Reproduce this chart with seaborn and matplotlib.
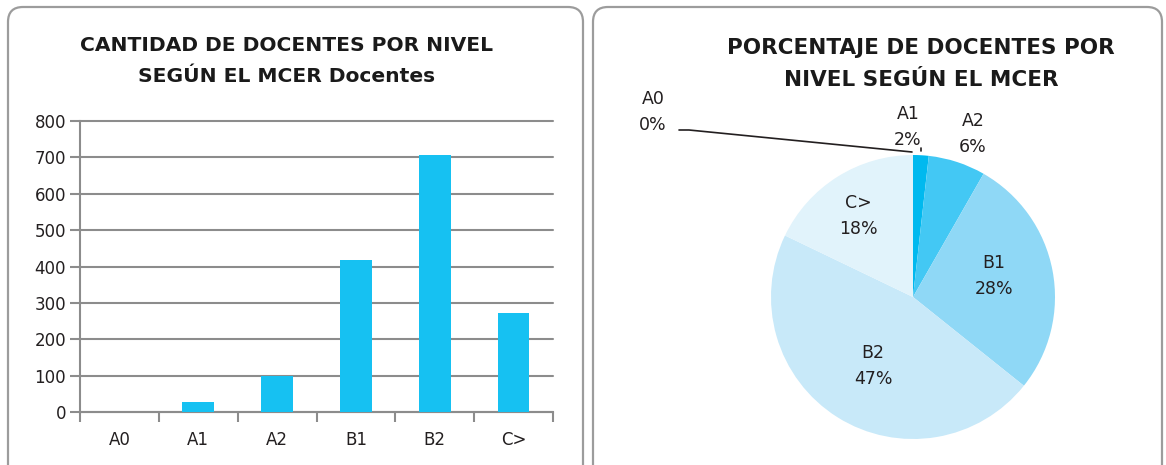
import matplotlib
matplotlib.use("Agg")
import matplotlib.pyplot as plt
import seaborn as sns
import pandas as pd
from matplotlib.patches import FancyBboxPatch

# ---- data ----
categories = ["A0", "A1", "A2", "B1", "B2", "C>"]
docentes = [0, 27, 99, 418, 706, 272]
pct_shown = [0, 2, 6, 28, 47, 18]
y_ticks = [0, 100, 200, 300, 400, 500, 600, 700, 800]

bar_title = "CANTIDAD DE DOCENTES POR NIVEL\nSEGÚN EL MCER Docentes"
pie_title = "PORCENTAJE DE DOCENTES POR\nNIVEL SEGÚN EL MCER"

# ---- style ----
sns.set_theme(style="white")
plt.rcParams["font.family"] = ["DejaVu Sans"]
TXT = "#231f20"
GRID = "#8c8c8c"
BAR = "#16C1F2"
PIE_COLORS = ["#00B9EF", "#00B9EF", "#43C8F4", "#8FD8F6", "#C8E9F9", "#E1F3FB"]

W, H = 1166, 465
fig = plt.figure(figsize=(W / 100, H / 100), dpi=100)

# background panel frames (pixel coordinates)
bg = fig.add_axes([0, 0, 1, 1], zorder=-10)
bg.set_xlim(0, W)
bg.set_ylim(H, 0)
bg.axis("off")
for x0, x1 in [(8, 583), (593, 1162)]:
    bg.add_patch(FancyBboxPatch((x0, 7), x1 - x0, 475, boxstyle="round,pad=0,rounding_size=15",
                                fc="white", ec="#9c9c9c", lw=1.6))

def fx(px):
    return px / W

def fy(py):
    return (H - py) / H

# ---- bar chart ----
axL, axR, axT, axB = 80, 553, 121, 412
ax = fig.add_axes([fx(axL), fy(axB), fx(axR) - fx(axL), fy(axT) - fy(axB)])
df = pd.DataFrame({"nivel": categories, "docentes": docentes})
sns.barplot(data=df, x="nivel", y="docentes", color=BAR, width=0.4, saturation=1, ax=ax,
            zorder=3, linewidth=0, edgecolor="none")
ax.set_ylim(0, 800)
ax.set_xlim(-0.5, len(categories) - 0.5)
ax.set_yticks(y_ticks)
ax.yaxis.grid(True, color=GRID, lw=1.5, zorder=0)
for gl in ax.get_ygridlines():
    gl.set_clip_on(False)
ax.set_axisbelow(True)
ax.set_xlabel("")
ax.set_ylabel("")
for s in ["top", "right"]:
    ax.spines[s].set_visible(False)
for s in ["left", "bottom"]:
    ax.spines[s].set_color(GRID)
    ax.spines[s].set_linewidth(1.5)
ax.tick_params(axis="y", which="major", left=True, length=7, width=1.5, color=GRID, direction="out",
               labelsize=12, labelcolor=TXT, pad=3)
ax.set_xticks([i - 0.5 for i in range(len(categories) + 1)], minor=True)
ax.tick_params(axis="x", which="minor", bottom=True, length=7, width=1.5, color=GRID, direction="out")
ax.tick_params(axis="x", which="major", length=0, labelsize=12, labelcolor=TXT, pad=14)
ax.set_facecolor("none")
fig.text(fx(287), fy(61), bar_title, ha="center", va="center", fontsize=14.6, fontweight="bold",
         color="#1a1a1a", linespacing=1.75)

# ---- pie chart ----
cx, cy, r = 913, 297, 142
pax = fig.add_axes([fx(cx - r), fy(cy + r), fx(2 * r), fy(cy - r) - fy(cy + r)])
wedges, _ = pax.pie(docentes, colors=PIE_COLORS, startangle=90, counterclock=False,
                    wedgeprops=dict(linewidth=0))
pax.set_aspect("auto")
pax.set_xlim(-1, 1)
pax.set_ylim(-1, 1)

def d(px, py):
    return ((px - cx) / r, (cy - py) / r)

label_pos = {"A0": (653, 112), "A1": (908, 127), "A2": (973, 134),
             "B1": (994, 276), "B2": (873, 366), "C>": (858, 216)}
for cat, p in zip(categories, pct_shown):
    x, y = d(*label_pos[cat])
    pax.text(x, y, f"{cat}\n{p}%", ha="center", va="center", fontsize=12.5, color=TXT,
             linespacing=1.6, clip_on=False)
# leader lines
pts = [d(679, 130), d(689, 130), d(912, 152)]
pax.plot([p[0] for p in pts], [p[1] for p in pts], color=TXT, lw=1.2, clip_on=False)
a, b = d(921, 148), d(921, 151)
pax.plot([a[0], b[0]], [a[1], b[1]], color=TXT, lw=1.2, clip_on=False)

fig.text(fx(921), fy(64), pie_title, ha="center", va="center", fontsize=15.5, fontweight="bold",
         color="#1a1a1a", linespacing=1.75)

fig.savefig("out.png", dpi=100)
